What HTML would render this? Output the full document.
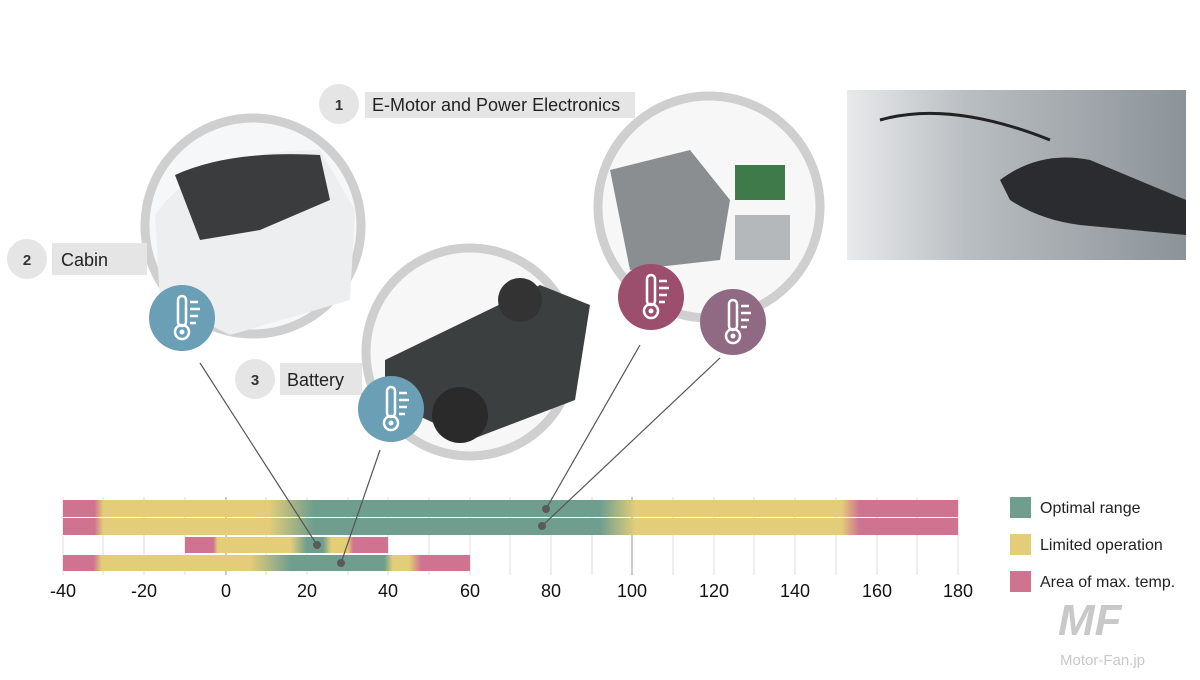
<!DOCTYPE html>
<html><head><meta charset="utf-8"><style>
body{margin:0;background:#fff;width:1200px;height:675px;overflow:hidden;font-family:"Liberation Sans",sans-serif}
</style></head><body>
<svg width="1200" height="675" xmlns="http://www.w3.org/2000/svg" font-family="Liberation Sans, sans-serif">
<defs>
<linearGradient id="r1" x1="63" x2="958" gradientUnits="userSpaceOnUse">
<stop offset="0.035" stop-color="#cf7390"/><stop offset="0.045" stop-color="#e3cd78"/>
<stop offset="0.23" stop-color="#e3cd78"/><stop offset="0.28" stop-color="#6f9e8f"/>
<stop offset="0.6" stop-color="#6f9e8f"/><stop offset="0.64" stop-color="#e3cd78"/>
<stop offset="0.87" stop-color="#e3cd78"/><stop offset="0.89" stop-color="#cf7390"/>
</linearGradient>
<linearGradient id="r3" x1="185" x2="388" gradientUnits="userSpaceOnUse">
<stop offset="0.14" stop-color="#cf7390"/><stop offset="0.16" stop-color="#e3cd78"/>
<stop offset="0.52" stop-color="#e3cd78"/><stop offset="0.6" stop-color="#6f9e8f"/>
<stop offset="0.68" stop-color="#6f9e8f"/><stop offset="0.72" stop-color="#e3cd78"/>
<stop offset="0.8" stop-color="#e3cd78"/><stop offset="0.83" stop-color="#cf7390"/>
</linearGradient>
<linearGradient id="r4" x1="63" x2="470" gradientUnits="userSpaceOnUse">
<stop offset="0.075" stop-color="#cf7390"/><stop offset="0.095" stop-color="#e3cd78"/>
<stop offset="0.46" stop-color="#e3cd78"/><stop offset="0.56" stop-color="#6f9e8f"/>
<stop offset="0.79" stop-color="#6f9e8f"/><stop offset="0.81" stop-color="#e3cd78"/>
<stop offset="0.85" stop-color="#e3cd78"/><stop offset="0.88" stop-color="#cf7390"/>
</linearGradient>
<linearGradient id="ph" x1="0" x2="1">
<stop offset="0" stop-color="#e8eaeb"/><stop offset="0.35" stop-color="#b9bec2"/><stop offset="1" stop-color="#8c9398"/>
</linearGradient>
<g id="th"><rect x="-4" y="-22" width="8" height="30" rx="4" fill="none" stroke="#fff" stroke-width="2.5"/><circle cx="0" cy="14" r="7" fill="none" stroke="#fff" stroke-width="2.5"/><circle cx="0" cy="14" r="2.5" fill="#fff"/><path d="M8 -16h8M8 -9h10M8 -2h8M8 5h6" stroke="#fff" stroke-width="2.5"/></g>
</defs>
<!-- photo -->
<rect x="847" y="90" width="339" height="170" fill="url(#ph)"/>
<path d="M1000 180 Q1040 150 1090 160 L1186 200 L1186 235 L1080 225 Q1040 220 1010 200Z" fill="#2a2c2f"/>
<path d="M880 120 Q950 100 1050 140" stroke="#222" stroke-width="3" fill="none"/>
<!-- rings -->
<circle cx="253" cy="226" r="108" fill="#f6f7f8" stroke="#cfcfcf" stroke-width="9"/>
<circle cx="709" cy="207" r="111" fill="#f7f7f7" stroke="#cfcfcf" stroke-width="9"/>
<circle cx="470" cy="352" r="104" fill="#f7f7f7" stroke="#cfcfcf" stroke-width="9"/>
<path d="M155 215 Q200 150 320 150 L355 210 L350 300 L230 335 L160 300Z" fill="#eceef0"/>
<path d="M175 175 Q230 150 320 155 L330 200 L260 230 L200 240Z" fill="#3a3c3d"/>
<path d="M385 360 L540 285 L590 305 L575 400 L470 440 L385 400Z" fill="#3c3f3f"/>
<circle cx="460" cy="415" r="28" fill="#2a2a2a"/><circle cx="520" cy="300" r="22" fill="#333"/>
<path d="M610 170 L690 150 L730 200 L720 260 L630 270Z" fill="#8b8e90"/>
<rect x="735" y="165" width="50" height="35" fill="#3f7a4a"/><rect x="735" y="215" width="55" height="45" fill="#b5b8ba"/>
<!-- labels -->
<rect x="365" y="92" width="270" height="26" fill="#e5e5e5"/>
<circle cx="339" cy="104" r="20" fill="#e5e5e5"/>
<text x="339" y="110" font-size="15" font-weight="bold" text-anchor="middle" fill="#333">1</text>
<text x="372" y="111" font-size="18" fill="#222">E-Motor and Power Electronics</text>
<rect x="52" y="243" width="95" height="32" fill="#e5e5e5"/>
<circle cx="27" cy="259" r="20" fill="#e5e5e5"/>
<text x="27" y="265" font-size="15" font-weight="bold" text-anchor="middle" fill="#333">2</text>
<text x="61" y="266" font-size="18" fill="#222">Cabin</text>
<rect x="280" y="363" width="82" height="32" fill="#e5e5e5"/>
<circle cx="255" cy="379" r="20" fill="#e5e5e5"/>
<text x="255" y="385" font-size="15" font-weight="bold" text-anchor="middle" fill="#333">3</text>
<text x="287" y="386" font-size="18" fill="#222">Battery</text>
<!-- thermo circles -->
<circle cx="182" cy="318" r="33" fill="#6a9fb5"/><use href="#th" x="182" y="318"/>
<circle cx="391" cy="409" r="33" fill="#6a9fb5"/><use href="#th" x="391" y="409"/>
<circle cx="651" cy="297" r="33" fill="#9b4f6c"/><use href="#th" x="651" y="297"/>
<circle cx="733" cy="322" r="33" fill="#8f6a82"/><use href="#th" x="733" y="322"/>
<!-- grid -->
<g stroke="#dcdcdc" stroke-width="1">
<path d="M63 497V575M103 497V575M144 497V575M185 497V575M266 497V575M307 497V575M348 497V575M388 497V575M429 497V575M470 497V575M510 497V575M551 497V575M592 497V575M673 497V575M714 497V575M754 497V575M795 497V575M836 497V575M877 497V575M917 497V575M958 497V575"/>
</g>
<path d="M226 497V575M632 497V575" stroke="#999"/>
<!-- bars -->
<rect x="63" y="500" width="895" height="17" fill="url(#r1)"/>
<rect x="63" y="518" width="895" height="17" fill="url(#r1)"/>
<rect x="185" y="537" width="203" height="16" fill="url(#r3)"/>
<rect x="63" y="555" width="407" height="16" fill="url(#r4)"/>
<!-- connectors -->
<g stroke="#555" stroke-width="1.2">
<line x1="200" y1="363" x2="317" y2="545"/>
<line x1="380" y1="450" x2="341" y2="563"/>
<line x1="640" y1="345" x2="546" y2="509"/>
<line x1="720" y1="358" x2="542" y2="526"/>
</g>
<g fill="#5a5a5a"><circle cx="317" cy="545" r="4"/><circle cx="341" cy="563" r="4"/><circle cx="546" cy="509" r="4"/><circle cx="542" cy="526" r="4"/></g>
<!-- axis -->
<g font-size="18" fill="#111" text-anchor="middle">
<text x="63" y="597">-40</text><text x="144" y="597">-20</text><text x="226" y="597">0</text><text x="307" y="597">20</text><text x="388" y="597">40</text><text x="470" y="597">60</text><text x="551" y="597">80</text><text x="632" y="597">100</text><text x="714" y="597">120</text><text x="795" y="597">140</text><text x="877" y="597">160</text><text x="958" y="597">180</text>
</g>
<!-- legend -->
<rect x="1010" y="497" width="21" height="21" fill="#6f9e8f"/>
<rect x="1010" y="534" width="21" height="21" fill="#e3cd78"/>
<rect x="1010" y="571" width="21" height="21" fill="#cf7390"/>
<g font-size="16" fill="#222"><text x="1040" y="513">Optimal range</text><text x="1040" y="550">Limited operation</text><text x="1040" y="587">Area of max. temp.</text></g>
<text x="1058" y="635" font-size="44" font-weight="bold" font-style="italic" fill="#c8c8c8">MF</text>
<text x="1060" y="665" font-size="15" fill="#c8c8c8">Motor-Fan.jp</text>
</svg>
</body></html>
